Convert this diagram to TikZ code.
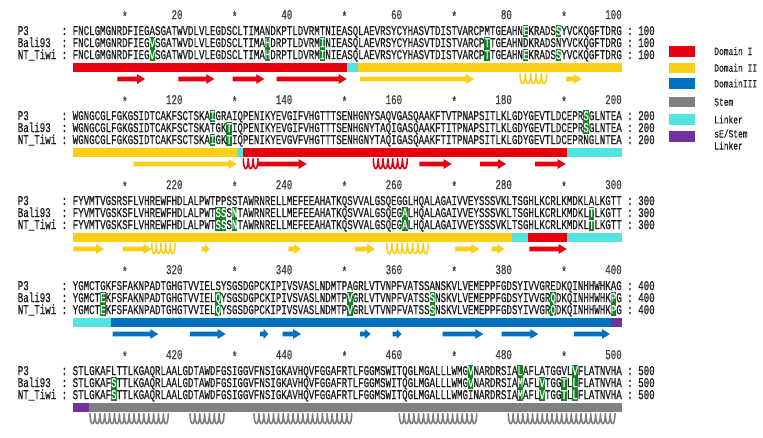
\documentclass[tikz,border=0pt]{standalone}
\usepackage{fontspec}
\newfontfamily\sqf[FakeStretch=0.6778,FakeBold=0.6]{Liberation Mono}
\newfontfamily\lgf[FakeStretch=0.72,FakeBold=0.4]{Liberation Mono}
\definecolor{dred}{RGB}{232,0,16}
\definecolor{dyel}{RGB}{252,206,22}
\definecolor{dblue}{RGB}{0,112,192}
\definecolor{dgray}{RGB}{128,128,128}
\definecolor{dcyan}{RGB}{82,228,224}
\definecolor{dpurp}{RGB}{112,48,160}
\definecolor{hlgreen}{RGB}{18,130,36}
\definecolor{txt}{RGB}{30,30,30}
\newcommand\W[1]{\textcolor{white}{#1}}
\tikzset{
  seqtxt/.style={anchor=base west, inner sep=0pt, outer sep=0pt, text=txt, font=\sqf\fontsize{13.5}{13.5}\selectfont},
  rultxt/.style={inner sep=0pt, outer sep=0pt, text=txt!85, font=\sqf\fontsize{13.5}{13.5}\selectfont},
  legtxt/.style={anchor=base west, inner sep=0pt, outer sep=0pt, text=txt, font=\lgf\fontsize{11}{12}\selectfont, align=left},
  legbox/.style={inner sep=0pt, outer sep=0pt, minimum width=25.7pt, minimum height=10.6pt, anchor=west}
}
\newcommand\seqrow[5]{%
  \node[seqtxt] (name#1-#2) at (17.8,{31+12*#2+85*#1+4.1}) {#3};
  \node[seqtxt] (cola#1-#2) at (61.7,{31+12*#2+85*#1+4.1}) {:};
  \node[seqtxt] (seq#1-#2) at (72.7,{31+12*#2+85*#1+4.1}) {#4};
  \node[seqtxt] (colb#1-#2) at (627.2,{31+12*#2+85*#1+4.1}) {:};
  \node[seqtxt] (num#1-#2) at (638.2,{31+12*#2+85*#1+4.1}) {#5};
}
\newcommand\hl[4]{\fill[hlgreen] ({72.7+(#2-1)*5.49},{31+12*#3+85*#1-6.4}) rectangle ({72.7+#2*5.49},{31+12*#4+85*#1+6.4});}
\newcommand\dbar[4]{\fill[#4] ({72.7+(#2-1)*5.49},{62.8+85*#1}) rectangle ({72.7+#3*5.49},{72.4+85*#1});}
\newcommand\sarr[4]{%
  \pgfmathsetmacro\yc{79+85*#1}%
  \pgfmathsetmacro\hlen{min(8,0.55*(#3-#2))}%
  \fill[#4] (#2,\yc-2.3) -- ({#3-\hlen},\yc-2.3) -- ({#3-\hlen},\yc-4.9) -- (#3,\yc) -- ({#3-\hlen},\yc+4.9) -- ({#3-\hlen},\yc+2.3) -- (#2,\yc+2.3) -- cycle;}
\newcommand\helix[4]{%
  \pgfmathsetmacro\yc{79+85*#1}%
  \pgfmathtruncatemacro\nh{max(1,round((#3-#2)/4.9))}%
  \pgfmathsetmacro\pp{(#3-#2)/\nh}%
  \pgfmathsetmacro\ytop{\yc-5.4}%
  \pgfmathsetmacro\ybot{\yc+8.0}%
  \draw[#4, line width=1.6pt, line join=round, line cap=round] (#2,\ytop)
    \foreach \i in {1,...,\nh}{ .. controls ({#2+(\i-1)*\pp+0.02*\pp},\ybot) and ({#2+\i*\pp-0.02*\pp},\ybot) .. ({#2+\i*\pp},\ytop)};}
\newcommand\ruler[1]{%
  \foreach \c in {10,30,50,70,90}{\node[rultxt, anchor=base] at ({72.7+(\c-0.5)*5.49},{15+85*#1+6.0}) {*};}
  \foreach \c in {20,40,60,80,100}{\pgfmathtruncatemacro\nn{100*#1+\c}\node[rultxt, anchor=base east] at ({72.7+\c*5.49},{15+85*#1+4.1}) {\nn};}
}
\begin{document}
\begin{tikzpicture}[x=1pt,y=-1pt]
\useasboundingbox (0,0) rectangle (763,437);
\fill[white] (0,0) rectangle (763,437);
% ---------------- highlights
\hl{0}{15}{1}{2}\hl{0}{36}{1}{2}\hl{0}{46}{1}{2}\hl{0}{76}{1}{2}
\hl{0}{83}{0}{0}\hl{0}{83}{2}{2}\hl{0}{89}{0}{0}\hl{0}{89}{2}{2}
\hl{1}{26}{0}{0}\hl{1}{26}{2}{2}\hl{1}{29}{1}{2}\hl{1}{94}{0}{1}
\hl{2}{27}{1}{2}\hl{2}{28}{1}{2}\hl{2}{30}{1}{2}\hl{2}{61}{1}{2}\hl{2}{95}{1}{2}
\hl{3}{6}{1}{2}\hl{3}{27}{1}{2}\hl{3}{51}{1}{2}\hl{3}{66}{1}{2}\hl{3}{88}{1}{2}\hl{3}{99}{1}{2}
\hl{4}{8}{1}{2}\hl{4}{73}{0}{1}\hl{4}{82}{0}{2}\hl{4}{86}{1}{2}\hl{4}{90}{1}{2}\hl{4}{92}{0}{2}
% ---------------- rulers
\ruler{0}\ruler{1}\ruler{2}\ruler{3}\ruler{4}
% ---------------- block 1
\seqrow{0}{0}{P3}{FNCLGMGNRDFIEGASGATWVDLVLEGDSCLTIMANDKPTLDVRMTNIEASQLAEVRSYCYHASVTDISTVARCPMTGEAHN\W{E}KRADS\W{S}YVCKQGFTDRG}{100}
\seqrow{0}{1}{Bali93}{FNCLGMGNRDFIEG\W{V}SGATWVDLVLEGDSCLTIMA\W{H}DRPTLDVRM\W{I}NIEASQLAEVRSYCYHASVTDISTVARCP\W{T}TGEAHNDKRADSNYVCKQGFTDRG}{100}
\seqrow{0}{2}{NT\_Tiwi}{FNCLGMGNRDFIEG\W{V}SGATWVDLVLEGDSCLTIMA\W{H}DRPTLDVRM\W{I}NIEASQLAEVRSYCYHASVTDISTVARCP\W{T}TGEAHN\W{E}KRADS\W{S}YVCKQGFTDRG}{100}
% ---------------- block 2
\seqrow{1}{0}{P3}{WGNGCGLFGKGSIDTCAKFSCTSKA\W{I}GRAIQPENIKYEVGIFVHGTTTSENHGNYSAQVGASQAAKFTVTPNAPSITLKLGDYGEVTLDCEPR\W{S}GLNTEA}{200}
\seqrow{1}{1}{Bali93}{WGNGCGLFGKGSIDTCAKFSCTSKATGK\W{T}IQPENIKYEVGIFVHGTTTSENHGNYTAQIGASQAAKFTITPNAPSITLKLGDYGEVTLDCEPR\W{S}GLNTEA}{200}
\seqrow{1}{2}{NT\_Tiwi}{WGNGCGLFGKGSIDTCAKFSCTSKA\W{I}GK\W{T}IQPENIKYEVGVFVHGTTTSENHGNYTAQIGASQAAKFTITPNAPSITLKLGDYGEVTLDCEPRNGLNTEA}{200}
% ---------------- block 3
\seqrow{2}{0}{P3}{FYVMTVGSRSFLVHREWFHDLALPWTPPSSTAWRNRELLMEFEEAHATKQSVVALGSQEGGLHQALAGAIVVEYSSSVKLTSGHLKCRLKMDKLALKGTT}{300}
\seqrow{2}{1}{Bali93}{FYVMTVGSKSFLVHREWFHDLALPWT\W{S}\W{S}S\W{N}TAWRNRELLMEFEEAHATKQSVVALGSQEG\W{A}LHQALAGAIVVEYSSSVKLTSGHLKCRLKMDKL\W{T}LKGTT}{300}
\seqrow{2}{2}{NT\_Tiwi}{FYVMTVGSKSFLVHREWFHDLALPWT\W{S}\W{S}S\W{N}TAWRNRELLMEFEEAHATKQSVVALGSQEG\W{A}LHQALAGAIVVEYSSSVKLTSGHLKCRLKMDKL\W{T}LKGTT}{300}
% ---------------- block 4
\seqrow{3}{0}{P3}{YGMCTGKFSFAKNPADTGHGTVVIELSYSGSDGPCKIPIVSVASLNDMTPAGRLVTVNPFVATSSANSKVLVEMEPPFGDSYIVVGREDKQINHHWHKAG}{400}
\seqrow{3}{1}{Bali93}{YGMCT\W{E}KFSFAKNPADTGHGTVVIEL\W{Q}YSGSDGPCKIPIVSVASLNDMTP\W{V}GRLVTVNPFVATSS\W{S}NSKVLVEMEPPFGDSYIVVGR\W{Q}DKQINHHWHK\W{P}G}{400}
\seqrow{3}{2}{NT\_Tiwi}{YGMCT\W{E}KFSFAKNPADTGHGTVVIEL\W{Q}YSGSDGPCKIPIVSVASLNDMTP\W{V}GRLVTVNPFVATSS\W{S}NSKVLVEMEPPFGDSYIVVGR\W{Q}DKQINHHWHK\W{P}G}{400}
% ---------------- block 5
\seqrow{4}{0}{P3}{STLGKAFLTTLKGAQRLAALGDTAWDFGSIGGVFNSIGKAVHQVFGGAFRTLFGGMSWITQGLMGALLLWMG\W{V}NARDRSIA\W{L}AFLATGGVL\W{V}FLATNVHA}{500}
\seqrow{4}{1}{Bali93}{STLGKAF\W{S}TTLKGAQRLAALGDTAWDFGSIGGVFNSIGKAVHQVFGGAFRTLFGGMSWITQGLMGALLLWMG\W{V}NARDRSIA\W{M}AFL\W{V}TGG\W{T}L\W{L}FLATNVHA}{500}
\seqrow{4}{2}{NT\_Tiwi}{STLGKAF\W{S}TTLKGAQRLAALGDTAWDFGSIGGVFNSIGKAVHQVFGGAFRTLFGGMSWITQGLMGALLLWMGINARDRSIA\W{M}AFL\W{V}TGG\W{T}L\W{L}FLATNVHA}{500}
% ---------------- domain bars
\dbar{0}{1}{50}{dred}\dbar{0}{51}{52}{dcyan}\dbar{0}{53}{100}{dyel}
\dbar{1}{1}{30}{dyel}\dbar{1}{31}{31}{dcyan}\dbar{1}{32}{90}{dred}\dbar{1}{91}{100}{dcyan}
\dbar{2}{1}{80}{dyel}\dbar{2}{81}{83}{dcyan}\dbar{2}{84}{90}{dred}\dbar{2}{91}{100}{dcyan}
\dbar{3}{1}{7}{dcyan}\dbar{3}{8}{98}{dblue}\dbar{3}{99}{100}{dpurp}
\dbar{4}{1}{3}{dpurp}\dbar{4}{4}{100}{dgray}
% ---------------- secondary structure
\sarr{0}{117.3}{145}{dred}\sarr{0}{178.3}{214.3}{dred}\sarr{0}{232.7}{264.3}{dred}\sarr{0}{276.7}{346.7}{dred}
\sarr{0}{360}{474}{dyel}\helix{0}{520}{546.7}{dyel}\sarr{0}{566}{581.7}{dyel}
\sarr{1}{133.3}{236.7}{dyel}\helix{1}{243.3}{258}{dred}\sarr{1}{257}{306.7}{dred}
\helix{1}{373.3}{407.3}{dred}\sarr{1}{419.3}{451.7}{dred}\sarr{1}{480}{506}{dred}\sarr{1}{535}{565.7}{dred}
\sarr{2}{73.3}{104}{dyel}\sarr{2}{122.7}{151.7}{dyel}\helix{2}{151.7}{175}{dyel}\sarr{2}{201.7}{209.3}{dyel}
\sarr{2}{288.3}{301}{dyel}\sarr{2}{355}{375}{dyel}\helix{2}{386.7}{428.3}{dyel}\sarr{2}{455}{479.3}{dyel}
\sarr{2}{491.7}{504.3}{dyel}\sarr{2}{529.3}{566.7}{dred}
\sarr{3}{112.7}{158.3}{dblue}\sarr{3}{190}{225.7}{dblue}\sarr{3}{260}{268.3}{dblue}\sarr{3}{282.7}{301}{dblue}
\sarr{3}{360}{370.7}{dblue}\sarr{3}{392.7}{401.7}{dblue}\sarr{3}{442.7}{483.3}{dblue}\sarr{3}{501.7}{538.3}{dblue}\sarr{3}{574}{610}{dblue}
\helix{4}{90}{168.3}{dgray}\helix{4}{190}{224}{dgray}\helix{4}{254}{351.7}{dgray}\helix{4}{399.3}{476.7}{dgray}\helix{4}{508.3}{615}{dgray}
% ---------------- legend
\node[legbox, fill=dred]  (lg1) at (669.3,51.3) {};
\node[legbox, fill=dyel]  (lg2) at (669.3,68) {};
\node[legbox, fill=dblue] (lg3) at (669.3,83.7) {};
\node[legbox, fill=dgray] (lg4) at (669.3,102) {};
\node[legbox, fill=dcyan] (lg5) at (669.3,119.7) {};
\node[legbox, fill=dpurp] (lg6) at (669.3,136.3) {};
\node[legtxt] (lt1) at (714.3,55) {Domain I};
\node[legtxt] (lt2) at (714.3,71.7) {Domain II};
\node[legtxt] (lt3) at (714.3,87.4) {DomainIII};
\node[legtxt] (lt4) at (714.3,105.7) {Stem};
\node[legtxt] (lt5) at (714.3,123.4) {Linker};
\node[legtxt] (lt6) at (714.3,137.5) {sE/Stem};
\node[legtxt] (lt7) at (714.3,149.5) {Linker};
\end{tikzpicture}
\end{document}
